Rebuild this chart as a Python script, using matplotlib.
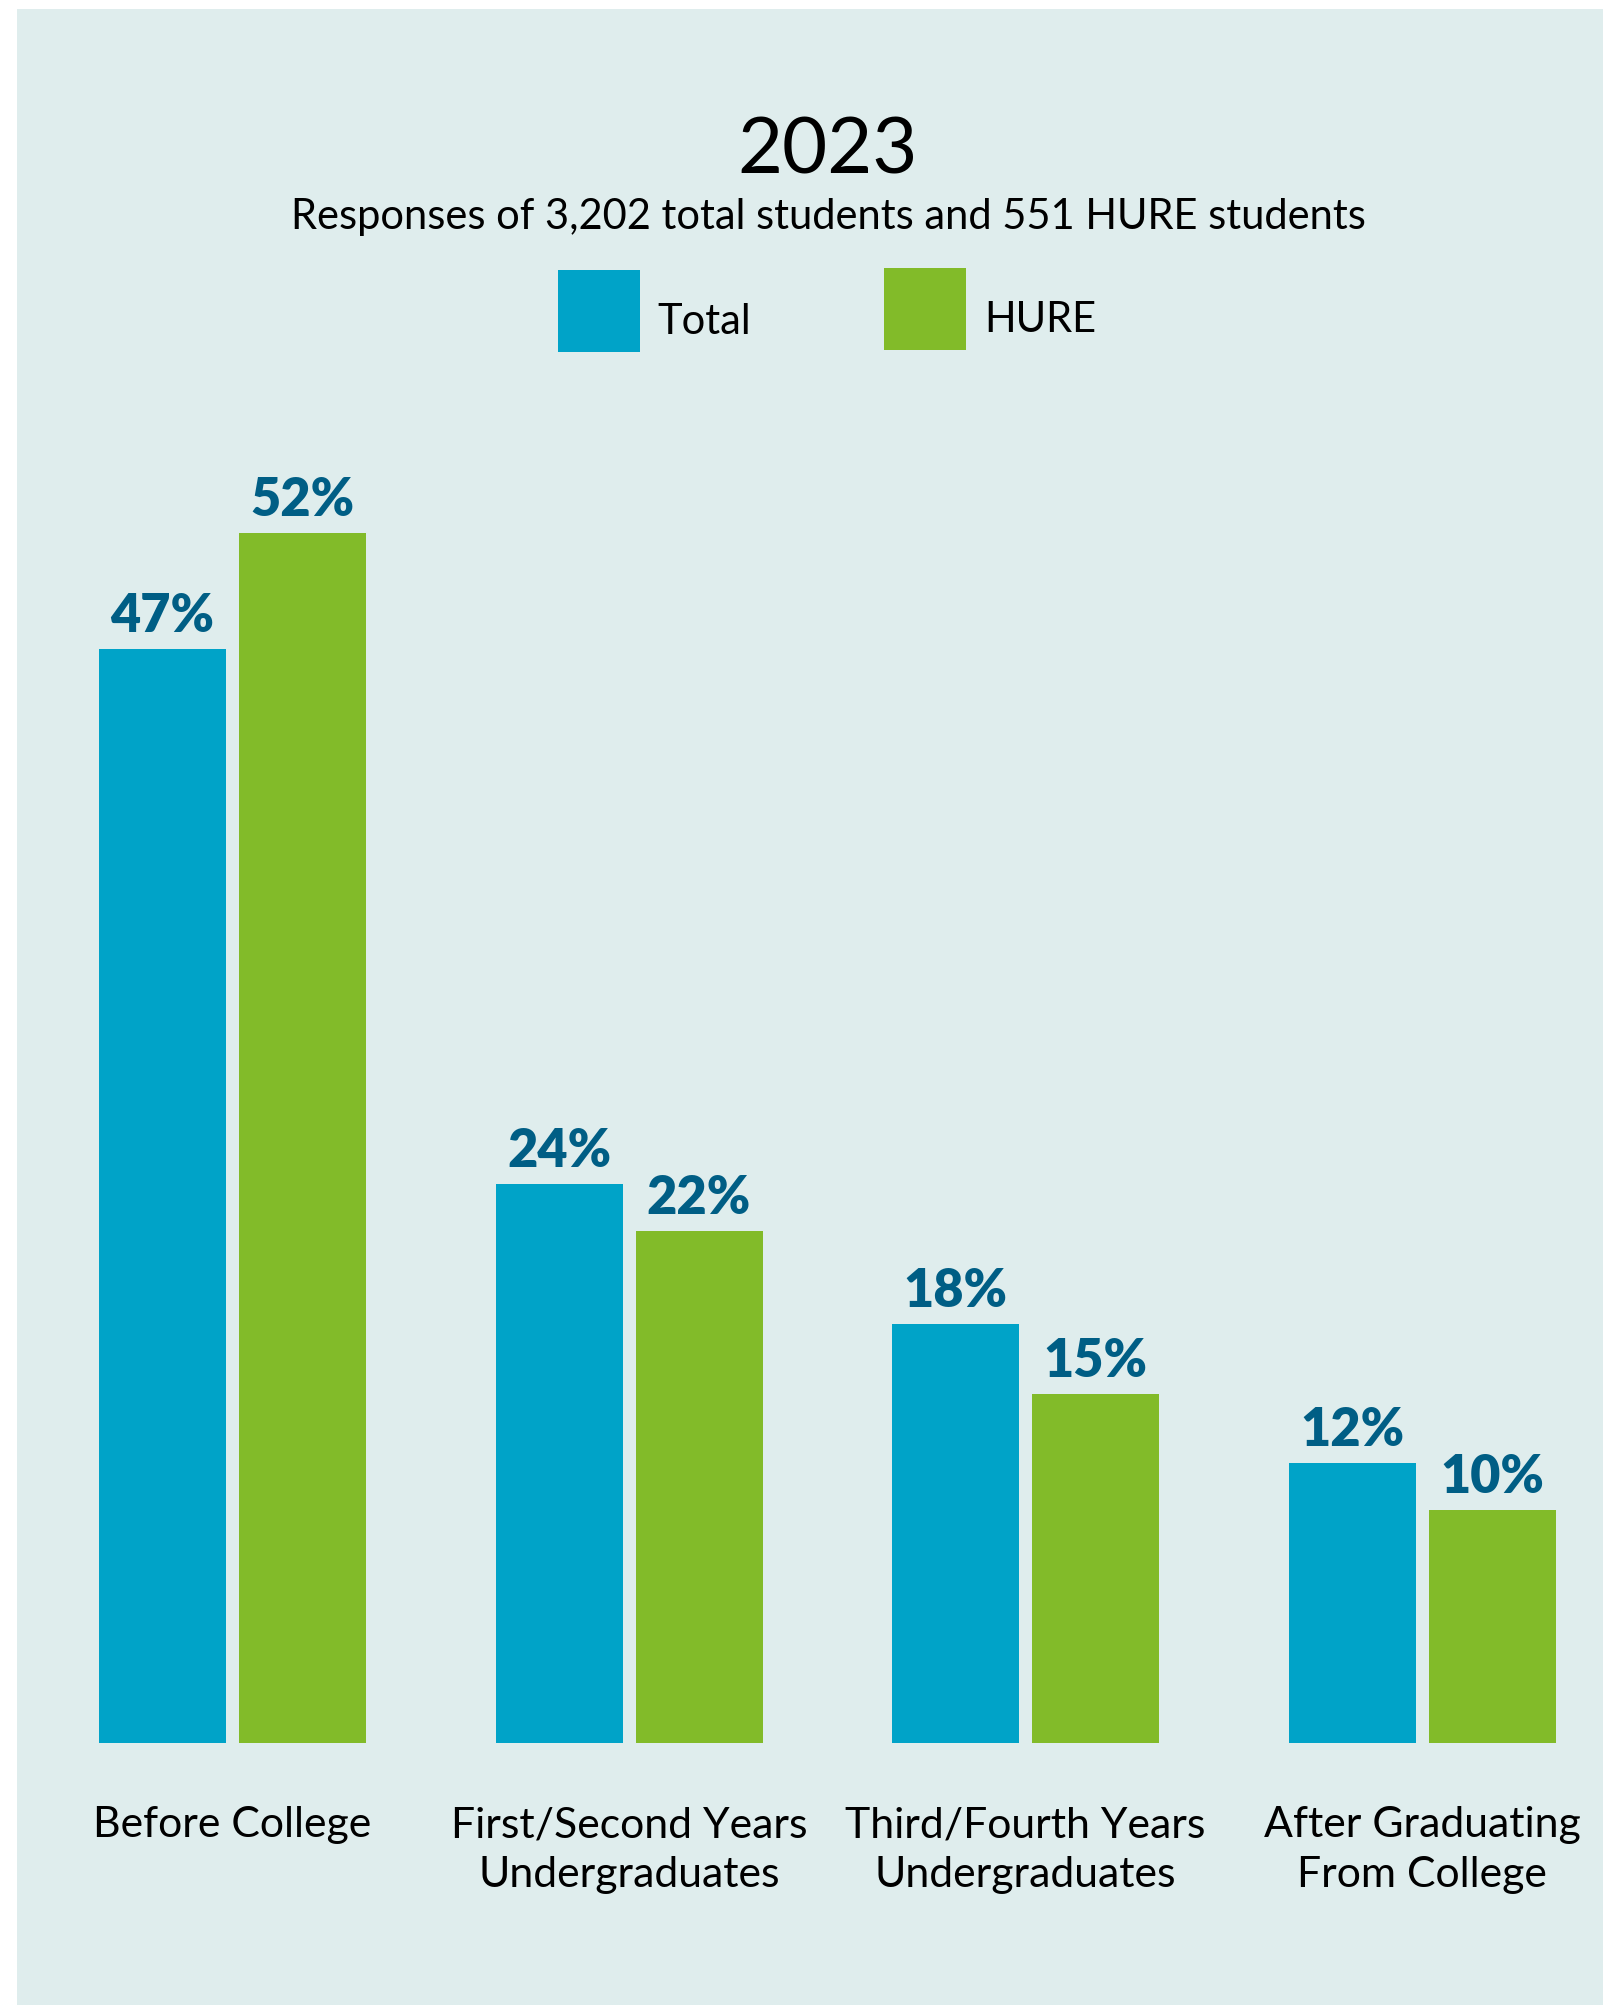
import matplotlib
matplotlib.use("Agg")
import matplotlib.pyplot as plt
from matplotlib.patches import Rectangle
import numpy as np

plt.rcParams['font.family'] = ['Lato', 'DejaVu Sans']

# survey data
categories = [
    ["Before College"],
    ["First/Second Years", "Undergraduates"],
    ["Third/Fourth Years", "Undergraduates"],
    ["After Graduating", "From College"],
]
total_pct = [47, 24, 18, 12]
hure_pct = [52, 22, 15, 10]
series_names = ["Total", "HURE"]

title = "2023"
subtitle = "Responses of 3,202 total students and 551 HURE students"

BLUE = "#00a3c8"
GREEN = "#82bb29"
LABEL_COLOR = "#005e85"
PANEL = "#dfeded"

W, H = 1603, 2006
fig = plt.figure(figsize=(W / 100, H / 100), dpi=100, facecolor="white")


def fx(px):
    return px / W


def fy(py):
    # pixel row measured from the top -> figure fraction
    return 1 - py / H


# panel background
fig.add_artist(Rectangle((fx(17), 0), 1 - fx(17), fy(10), transform=fig.transFigure,
                         facecolor=PANEL, edgecolor="none", zorder=0))

# bar area: y=0 at the baseline row, one group per unit on x
base_px, top_px = 1743.7, 533.7
ymax = max(hure_pct)
ax = fig.add_axes([fx(17), fy(base_px), 1 - fx(17), (base_px - top_px) / H])
ax.set_facecolor("none")
group_px, first_center = 396.5, 232.5
ax.set_xlim((17 - first_center) / group_px, (W - first_center) / group_px)
ax.set_ylim(0, ymax)
ax.axis("off")

x = np.arange(len(categories))
width = 127 / group_px
offset = 70 / group_px
bars_t = ax.bar(x - offset, total_pct, width, color=BLUE, label=series_names[0])
bars_h = ax.bar(x + offset, hure_pct, width, color=GREEN, label=series_names[1])

for bars, vals in ((bars_t, total_pct), (bars_h, hure_pct)):
    for b, v in zip(bars, vals):
        ax.annotate(f"{v}%", (b.get_x() + b.get_width() / 2, v), xytext=(0, 13),
                    textcoords="offset points", ha="center", va="baseline",
                    fontsize=37.5, fontweight="heavy", color=LABEL_COLOR, annotation_clip=False)

# category labels under each group, one line at a time
line_rows = [1837, 1887]
for i, lines in enumerate(categories):
    cx = fx(first_center + i * group_px)
    for row, line in zip(line_rows, lines):
        fig.text(cx, fy(row), line, ha="center", va="baseline", fontsize=30.8, color="black")

# heading
fig.text(fx(828), fy(173), title, ha="center", va="baseline", fontsize=56, color="black")
fig.text(fx(828), fy(229), subtitle, ha="center", va="baseline", fontsize=30, color="black")

# legend swatches
legend_items = [(558, 271, BLUE, series_names[0], 657, 334),
                (884, 269, GREEN, series_names[1], 984, 332)]
for x0, y0, col, name, tx, ty in legend_items:
    fig.add_artist(Rectangle((fx(x0), fy(y0 + 82)), 82 / W, 82 / H, transform=fig.transFigure,
                             facecolor=col, edgecolor="none"))
    fig.text(fx(tx), fy(ty), name, ha="left", va="baseline", fontsize=30, color="black")

fig.savefig("out.png", dpi=100, facecolor="white")
